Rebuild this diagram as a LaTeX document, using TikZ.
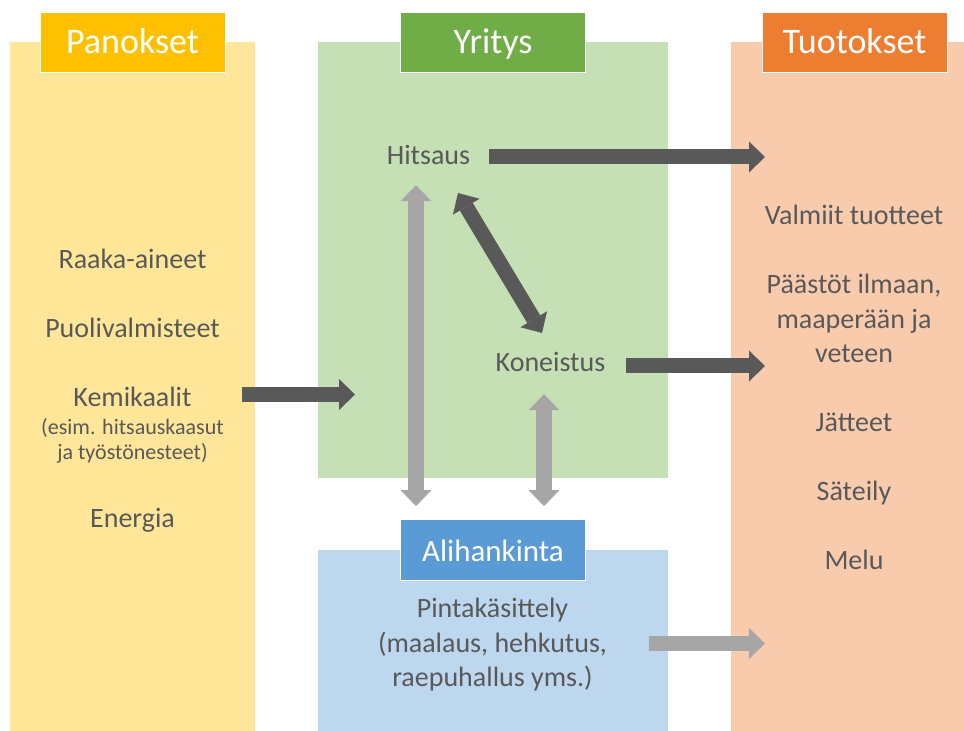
\documentclass[tikz,border=0pt]{standalone}
\usepackage{fontspec}
\setmainfont{Carlito}
\usepackage{xcolor}
\usepackage{tikz}
\usetikzlibrary{arrows.meta}
\tikzset{flow/.style = {> = {Triangle[length = 16pt, width = 31pt, line width = 0pt]}, line width = 15pt}}
\usetikzlibrary{positioning}
\usetikzlibrary{calc}
\definecolor{textColor}{RGB}{89,89,89}
\definecolor{darkArrow}{RGB}{89,89,89}
\definecolor{lightArrow}{RGB}{166,166,166}
\definecolor{panokPale}{RGB}{255,230,153}
\definecolor{panokDark}{RGB}{255,192,0}
\definecolor{yritysPale}{RGB}{197,224,180}
\definecolor{yritysDark}{RGB}{112,173,71}
\definecolor{aliPale}{RGB}{189,215,238}
\definecolor{aliDark}{RGB}{91,155,213}
\definecolor{tuotosPale}{RGB}{248,203,173}
\definecolor{tuotosDark}{RGB}{237,125,49}
\tikzset{
  panel/.style = {anchor=south west, inner sep=0pt, outer sep=0pt},
  header/.style = {draw=white, line width=0.8pt, text=white, minimum width=185, minimum height=60,
    inner sep=0pt, text height=24pt, text depth=0pt, font=\fontsize{36}{40}\selectfont},
  item/.style = {text=textColor, anchor=base, inner sep=0pt, outer sep=0pt, align=center,
    font=\fontsize{28}{34.5}\selectfont}
}

\begin{document}
\begin{tikzpicture}[x=1pt,y=1pt]
\definecolor{fillColor}{RGB}{255,255,255}
\path[use as bounding box,fill=fillColor] (0,0) rectangle (964,731);
\begin{scope}
\path[clip] (  0.00,  0.00) rectangle (964.00,731.00);

\node[panel, fill=panokPale, minimum width=245, minimum height=689] (panokset) at ( 10.00,  0.00) {};
\node[panel, fill=yritysPale, minimum width=350, minimum height=436] (yritys) at (318.00,253.00) {};
\node[panel, fill=aliPale, minimum width=350, minimum height=181] (alihankinta) at (318.00,  0.00) {};
\node[panel, fill=tuotosPale, minimum width=247, minimum height=689] (tuotokset) at (731.00,  0.00) {};

\node[header, fill=panokDark] (panoksetH) at (panokset.north) {Panokset};
\node[header, fill=yritysDark] (yritysH) at (yritys.north) {Yritys};
\node[header, fill=tuotosDark] (tuotoksetH) at (tuotokset.north) {Tuotokset};
\node[header, fill=aliDark, minimum height=61, font=\fontsize{31}{36}\selectfont] (alihankintaH) at (alihankinta.north) {Alihankinta};
\end{scope}
\begin{scope}
\node[item] (raaka) at (132.50,462.00) {Raaka-aineet};
\node[item] (puoli) at (132.50,393.00) {Puolivalmisteet};
\node[item] (kemikaalit) at (132.50,324.00) {Kemikaalit};
\node[item, font=\fontsize{22}{25}\selectfont] (esim) at (132.50,271.00) {(esim. hitsauskaasut\\ja työstönesteet)};
\node[item] (energia) at (132.50,203.00) {Energia};

\node[item] (hitsaus) at (428.50,566.00) {Hitsaus};
\node[item] (koneistus) at (550.50,359.00) {Koneistus};
\node[item] (pinta) at (492.50, 44.00) {Pintakäsittely\\(maalaus, hehkutus,\\raepuhallus yms.)};

\node[item] (valmiit) at (854.00,506.00) {Valmiit tuotteet};
\node[item] (paastot) at (854.00,368.00) {Päästöt ilmaan,\\maaperään ja\\veteen};
\node[item] (jatteet) at (854.00,299.50) {Jätteet};
\node[item] (sateily) at (854.00,230.00) {Säteily};
\node[item] (melu) at (854.00,161.00) {Melu};
\end{scope}
\begin{scope}
\coordinate (kemLane) at (  0.00,336.50);
\coordinate (hitsausLane) at (  0.00,574.00);
\coordinate (koneistusLane) at (  0.00,365.00);
\coordinate (pintaLane) at (  0.00, 87.50);
\coordinate (leftLane) at (416.00,  0.00);
\coordinate (rightLane) at (544.00,  0.00);
\coordinate (hkTop) at (458.00,538.00);
\coordinate (hkBot) at (542.00,398.00);

\draw[flow, ->, color=darkArrow, shorten <=-13pt, shorten >=-37pt] (panokset.east |- kemLane) -- (yritys.west |- kemLane);
\draw[flow, ->, color=darkArrow, shorten <=19pt, shorten >=-34pt] (hitsaus.east |- hitsausLane) -- (tuotokset.west |- hitsausLane);
\draw[flow, ->, color=darkArrow, shorten <=21pt, shorten >=-34pt] (koneistus.east |- koneistusLane) -- (tuotokset.west |- koneistusLane);
\draw[flow, <->, color=darkArrow] (hkTop) -- (hkBot);
\draw[flow, <->, color=lightArrow, line width=16pt, shorten <=20pt, shorten >=13pt] (hitsaus.south -| leftLane) -- (alihankintaH.north -| leftLane);
\draw[flow, <->, color=lightArrow, line width=16pt, shorten <=22pt, shorten >=13pt] (koneistus.south -| rightLane) -- (alihankintaH.north -| rightLane);
\draw[flow, ->, color=lightArrow, shorten <=42pt, shorten >=-34pt] (pinta.east |- pintaLane) -- (tuotokset.west |- pintaLane);
\end{scope}
\end{tikzpicture}
\end{document}
